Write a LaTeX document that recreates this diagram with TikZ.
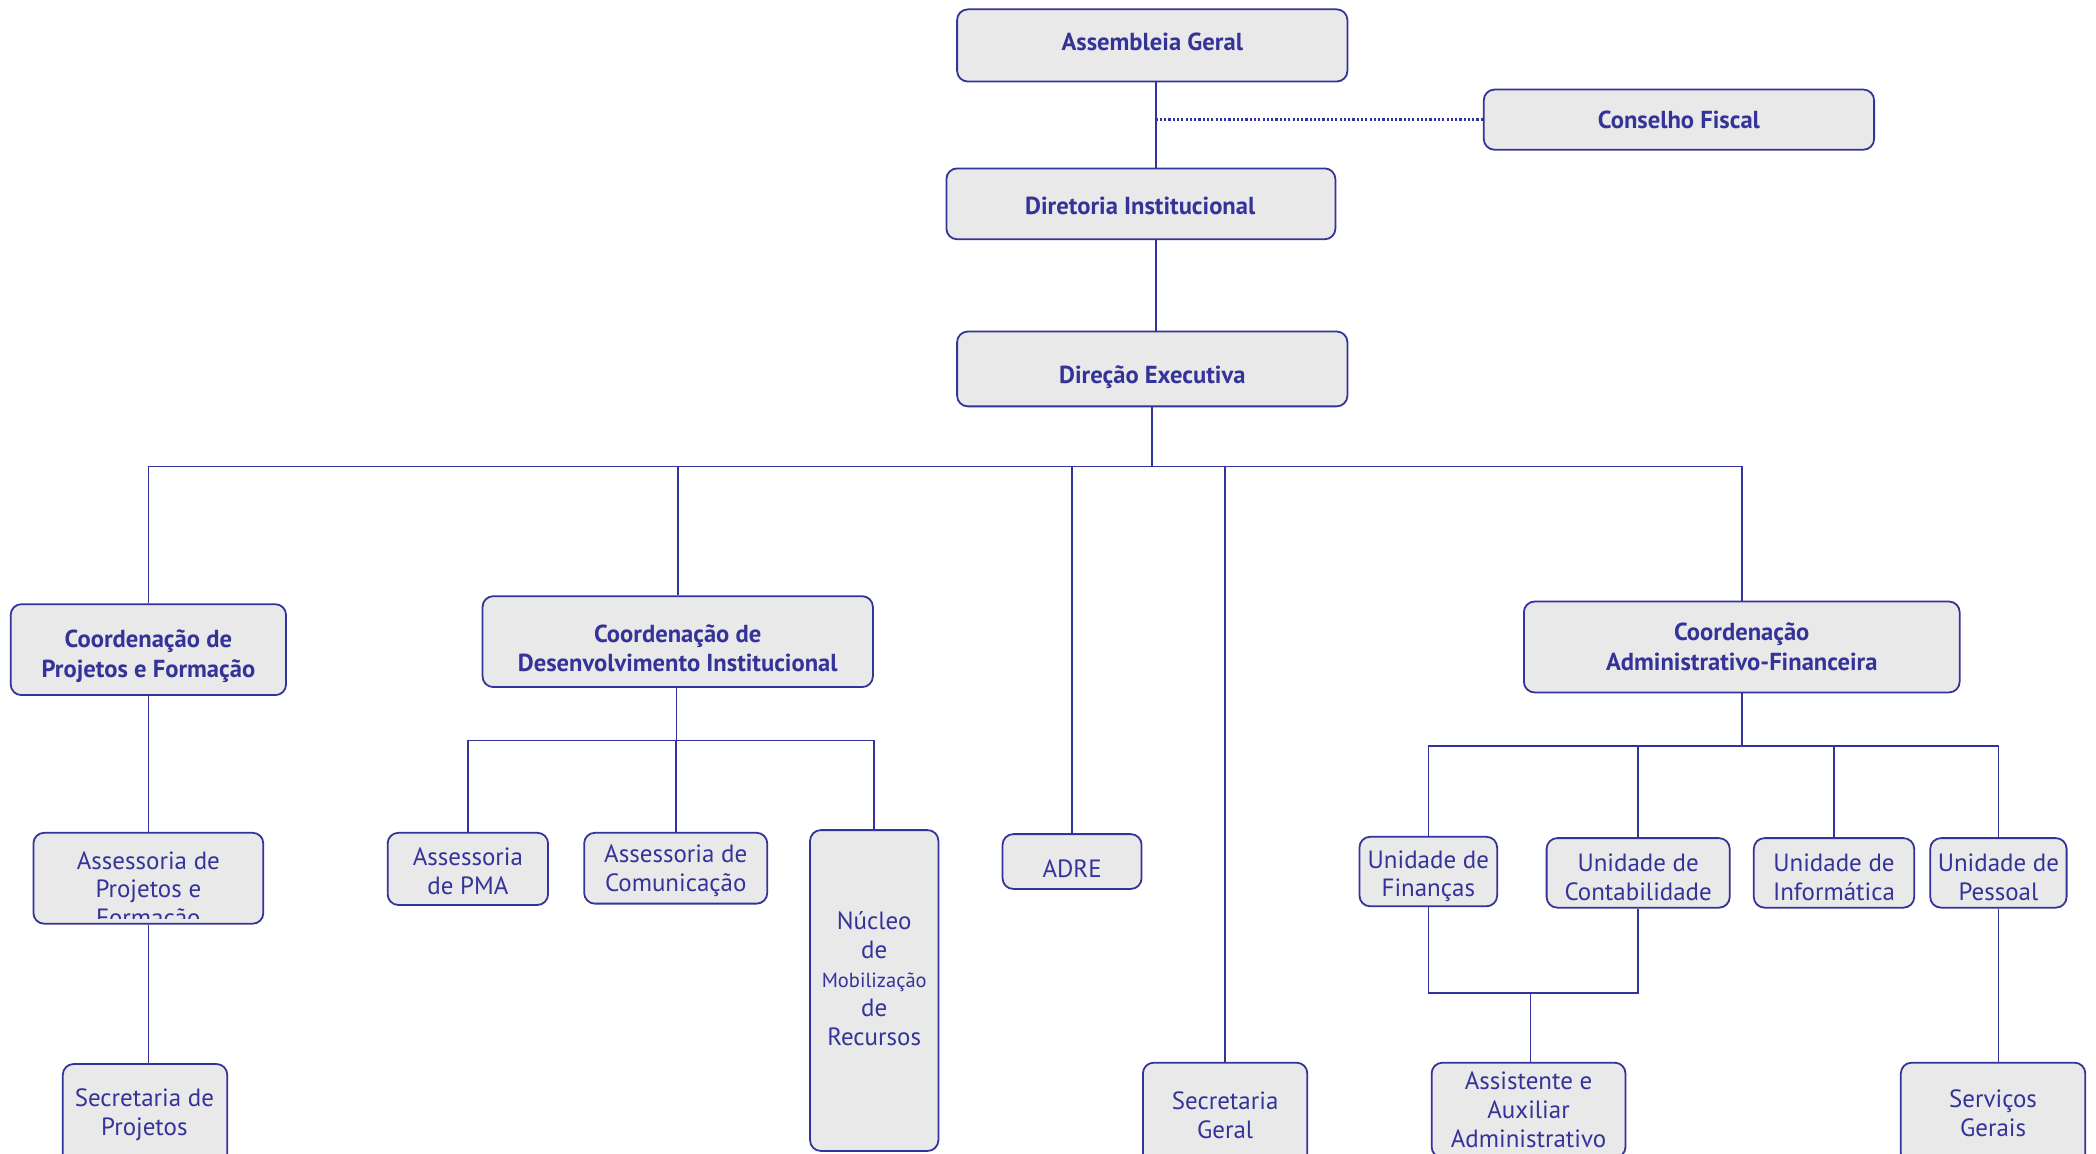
\documentclass[tikz,border=0pt]{standalone}
\usepackage{fontspec}
\setmainfont{PT Sans}
\usetikzlibrary{fit}
\definecolor{orgblue}{HTML}{333399}
\definecolor{orgfill}{HTML}{E9E9E9}
\tikzset{
  box/.style={draw=orgblue, fill=orgfill, line width=1pt, rounded corners=6pt, inner sep=0pt},
  txt/.style={text=orgblue, align=center, inner sep=0pt, font=\fontsize{14}{16.2}\selectfont},
  hb/.style={font=\fontsize{13.8}{16.5}\selectfont\bfseries},
  rg/.style={},
  link/.style={draw=orgblue, line width=0.9pt},
  dotlink/.style={draw=orgblue, line width=1.6pt, dash pattern=on 1.2pt off 1.2pt}
}
% #1 style, #2 name, #3-#6 corners, #7 #8 text centre, #9 text
\newcommand\obox[9]{%
  \node[box, fit={(#3,#4)(#5,#6)}] (#2) {};
  \node[txt,#1] (#2t) at (#7,#8) {#9};}
\begin{document}
\begin{tikzpicture}[x=0.75pt, y=-0.75pt]
\useasboundingbox (0,0) rectangle (1568,863);

\obox{hb}{ag}{716}{7}{1008}{61}{862}{31}{Assembleia Geral}
\obox{hb}{cf}{1110}{67}{1402}{112}{1256}{90}{Conselho Fiscal}
\obox{hb}{di}{708}{126}{999}{179}{853}{154}{Diretoria Institucional}
\obox{hb}{de}{716}{248}{1008}{304}{862}{282}{Direção Executiva}

\obox{hb}{cpf}{8}{452}{214}{520}{111}{491}{Coordenação de\\Projetos e Formação}
\obox{hb}{cdi}{361}{446}{653}{514}{507}{485}{Coordenação de\\Desenvolvimento Institucional}
\obox{hb}{caf}{1140}{450}{1466}{518}{1303}{484}{Coordenação\\Administrativo-Financeira}

% clipped box
\node[box, fit={(25,623)(197,691)}] (apf) {};
\begin{scope}
  \clip (25,623) rectangle (197,687);
  \node[txt] (apft) at (111,667) {Assessoria de\\Projetos e\\Formação};
\end{scope}
\obox{rg}{sp}{47}{796}{170}{872}{108}{834}{Secretaria de\\Projetos}

\obox{rg}{pma}{290}{623}{410}{677}{350}{651.5}{Assessoria\\de PMA}
\obox{rg}{com}{437}{623}{574}{676}{505.5}{651.5}{Assessoria de\\Comunicação}
\obox{rg}{nmr}{606}{621}{702}{861}{654}{732}{Núcleo\\de\\{\fontsize{11.5}{15}\selectfont Mobilização}\\de\\Recursos}

\obox{rg}{adre}{750}{624}{854}{665}{802}{650}{ADRE}
\obox{rg}{sg}{855}{795}{978}{873}{916.5}{834}{Secretaria\\Geral}

\obox{rg}{uf}{1017}{626}{1120}{678}{1068.5}{655.5}{Unidade de\\Finanças}
\obox{rg}{uc}{1157}{627}{1294}{679}{1225.5}{656.5}{Unidade de\\Contabilidade}
\obox{rg}{ui}{1312}{627}{1432}{679}{1372}{656.5}{Unidade de\\Informática}
\obox{rg}{up}{1444}{627}{1546}{679}{1495}{656.5}{Unidade de\\Pessoal}
\obox{rg}{aaa}{1071}{795}{1216}{866}{1143.5}{830}{Assistente e\\Auxiliar\\Administrativo}
\obox{rg}{sgr}{1422}{795}{1560}{871}{1491}{833}{Serviços\\Gerais}

% trunk
\coordinate (t1) at (865,0);
\draw[link] (ag.south -| t1) -- (di.north -| t1);
\draw[dotlink] (cf.west) -- (cf.west -| t1);
\draw[link] (di.south -| t1) -- (de.north -| t1);

% main bus
\coordinate (bus) at (862,349);
\draw[link] (de.south) -- (bus);
\draw[link] (cpf.north) |- (bus) -| (caf.north);
\draw[link] (cdi.north) -- (cdi.north |- bus);
\draw[link] (adre.north) -- (adre.north |- bus);
\draw[link] (sg.north) -- (sg.north |- bus);

% projetos
\draw[link] (cpf.south) -- (apf.north);
\draw[link] (apf.south) -- (apf.south |- sp.north);

% desenvolvimento
\coordinate (bus2) at (506,554);
\draw[link] (cdi.south -| bus2) -- (bus2);
\draw[link] (pma.north) |- (bus2) -| (nmr.north);
\draw[link] (com.north) -- (com.north |- bus2);

% administrativo
\coordinate (bus3) at (1303,558);
\draw[link] (caf.south) -- (bus3);
\draw[link] (uf.north) |- (bus3) -| (up.north);
\draw[link] (uc.north) -- (uc.north |- bus3);
\draw[link] (ui.north) -- (ui.north |- bus3);
\coordinate (bus4) at (1145,743);
\draw[link] (uf.south) |- (bus4) -| (uc.south);
\draw[link] (bus4) -- (bus4 |- aaa.north);
\draw[link] (up.south) -- (up.south |- sgr.north);
\end{tikzpicture}
\end{document}
